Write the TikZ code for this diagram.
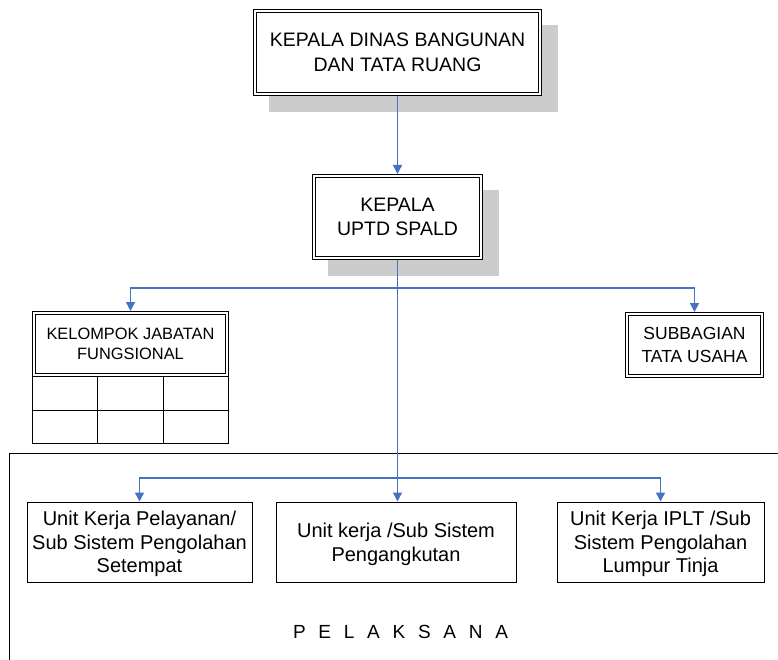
\documentclass[tikz,border=0pt]{standalone}
\usepackage{fontspec}
\setmainfont{Liberation Sans}
\usetikzlibrary{arrows.meta,calc,backgrounds}
\definecolor{linkblue}{RGB}{68,114,196}
\definecolor{shadowgray}{RGB}{204,204,204}
\begin{document}
\begin{tikzpicture}[x=1pt,y=-1pt,
  dbox/.style={draw=black, line width=0.9pt, double=white, double distance=2.2pt,
    fill=white, inner sep=0pt, outer sep=0pt, align=center},
  ubox/.style={draw=black, line width=1pt, fill=white, inner sep=0pt, outer sep=0pt,
    align=center, minimum width=#1, minimum height=80pt,
    font=\fontsize{20}{23.5}\selectfont},
  link/.style={draw=linkblue, line width=1.4pt, -{Triangle[width=9pt,length=9pt]}},
  shade/.style={fill=shadowgray},
  plain/.style={draw=black, line width=1pt}]
\useasboundingbox (0,0) rectangle (778,660);

% head office boxes
\node[dbox, minimum width=285pt, minimum height=83pt,
  font=\fontsize{19.5}{25}\selectfont] (top) at (397.5,52.5)
  {KEPALA DINAS BANGUNAN\\DAN TATA RUANG};
\node[dbox, minimum width=167pt, minimum height=82pt,
  font=\fontsize{19.5}{24}\selectfont] (kep) at (397.5,217)
  {KEPALA\\UPTD SPALD};

% drop shadows
\begin{scope}[on background layer]
  \fill[shade] ($(top.north west)+(14,14)$) rectangle ($(top.south east)+(18,18)$);
  \fill[shade] ($(kep.north west)+(14,14)$) rectangle ($(kep.south east)+(18,18)$);
\end{scope}

% functional group with its table
\node[dbox, minimum width=193pt, minimum height=62pt,
  font=\fontsize{16.4}{20}\selectfont] (kjf) at (130.5,344)
  {KELOMPOK JABATAN\\FUNGSIONAL};
\draw[plain] (32.5,376.5) rectangle (228.5,443.5);
\draw[plain] (32.5,410.5) -- (228.5,410.5);
\draw[plain] (97.5,376.5) -- (97.5,443.5);
\draw[plain] (163.5,376.5) -- (163.5,443.5);

% administration
\node[dbox, minimum width=135pt, minimum height=62pt,
  font=\fontsize{17.5}{23}\selectfont] (sub) at (694.5,345)
  {SUBBAGIAN\\TATA USAHA};

% executing units frame
\draw[plain] (9.5,668) -- (9.5,453.5) -- (786,453.5);

% last lines smashed so descenders do not lift the text block
\node[ubox=225pt] (u1) at (139.5,542)
  {Unit Kerja Pelayanan/\\Sub Sistem Pengolahan\\\smash{Setempat}};
\node[ubox=240pt] (u2) at (396,542)
  {Unit kerja /Sub Sistem\\\smash{Pengangkutan}};
\node[ubox=207pt] (u3) at (660.5,542)
  {Unit Kerja IPLT /Sub\\Sistem Pengolahan\\\smash{Lumpur Tinja}};

\node[inner sep=0pt, font=\fontsize{19}{23}\selectfont] (pel) at (400.5,632)
  {\makebox[215pt][s]{P\hfill E\hfill L\hfill A\hfill K\hfill S\hfill A\hfill N\hfill A}};

% connectors
\coordinate (b1) at ($(kep.south)+(0,30)$);
\coordinate (b2) at ($(kep.south)+(0,220)$);
\draw[link, shorten <=2pt, shorten >=2pt] (top) -- (kep);
\draw[link, shorten <=2pt, shorten >=0.5pt] (kep.south) -- (kep.south |- u2.north);
\draw[link, shorten >=2pt] (b1) -| (kjf.north);
\draw[link, shorten >=2pt] (b1) -| (sub.north);
\draw[link, shorten >=0.5pt] (b2) -| (u1.north);
\draw[link, shorten >=0.5pt] (b2) -| (u3.north);
\end{tikzpicture}
\end{document}
